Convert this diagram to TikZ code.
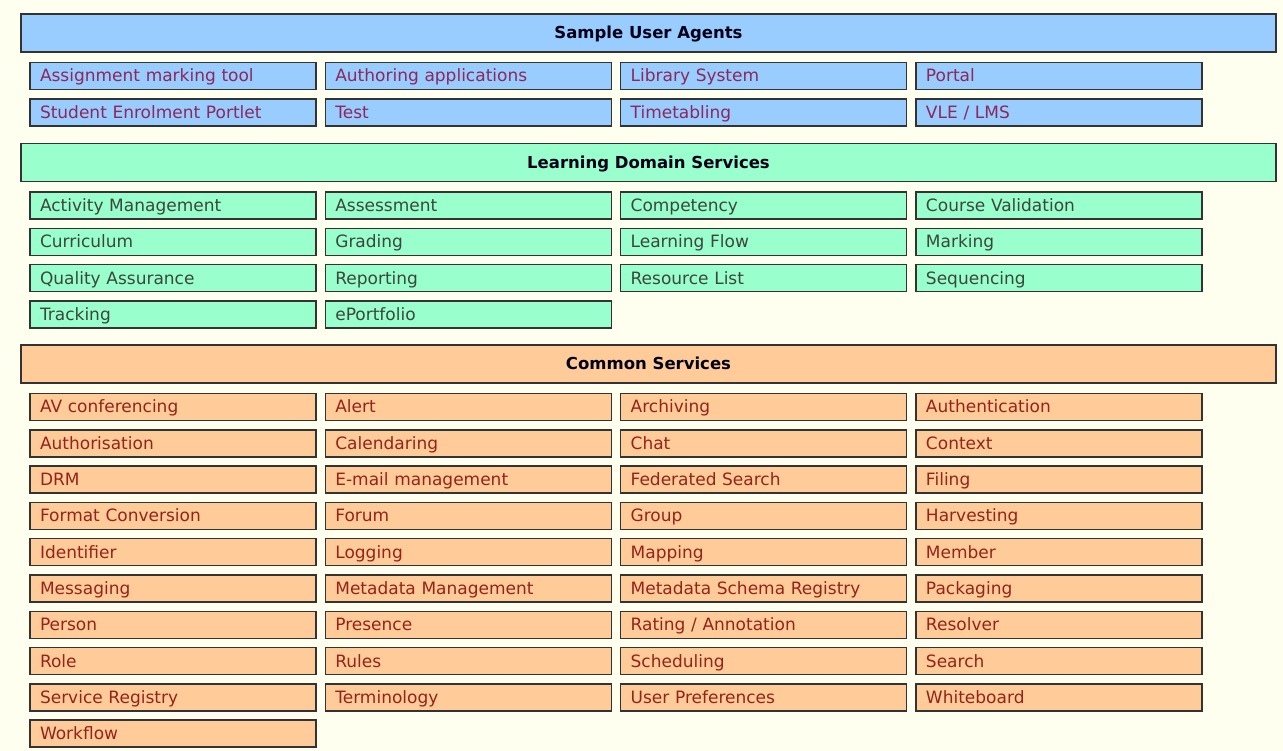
\documentclass[tikz,border=0pt]{standalone}
\usepackage{fontspec}
\setmainfont{DejaVu Sans}
\usepackage{tikz}
\usetikzlibrary{positioning}
\definecolor{SvBack}{RGB}{255,255,240}
\definecolor{SvEdge}{RGB}{51,51,51}
\definecolor{UABlue}{RGB}{153,204,255}
\definecolor{UAText}{RGB}{140,40,90}
\definecolor{LDGreen}{RGB}{153,255,204}
\definecolor{LDText}{RGB}{60,70,60}
\definecolor{CSOrange}{RGB}{255,204,153}
\definecolor{CSText}{RGB}{150,35,25}

\begin{document}
\begin{tikzpicture}[x=1pt, y=-1pt,
      hdr/.style={rectangle, draw=SvEdge, line width=1.5pt, minimum width=1255pt,
                  minimum height=38pt, inner sep=0pt, text height=13pt, text depth=1pt,
                  font=\fontsize{16.5}{19}\selectfont\bfseries, text=black!90!blue},
      svc/.style={rectangle, draw=SvEdge, line width=1.5pt, text width=266pt,
                  inner xsep=10pt, inner ysep=0pt, minimum height=27pt,
                  text height=13pt, text depth=1pt,
                  align=left, font=\fontsize{17}{20}\selectfont}
    ]
    \fill[SvBack] (0,0) rectangle (1283,751);
    \useasboundingbox (0,0) rectangle (1283,751);

    % user agents
    \node[hdr, fill=UABlue] (uahdr) at (648.5,33) {Sample User Agents};
    \foreach \name [count=\i from 0] in {Assignment marking tool,
        Authoring applications, Library System, Portal,
        Student Enrolment Portlet, Test, Timetabling, VLE / LMS}{
      \pgfmathsetmacro\cx{173+295.33*mod(\i,4)}
      \pgfmathsetmacro\cy{33+43+36.3*int(\i/4)}
      \node[svc, fill=UABlue, text=UAText] (ua-\i) at (\cx,\cy) {\name};
    }

    % learning domain services
    \node[hdr, fill=LDGreen] (ldhdr) at (648.5,162.5) {Learning Domain Services};
    \foreach \name [count=\i from 0] in {Activity Management, Assessment,
        Competency, Course Validation, Curriculum, Grading, Learning Flow,
        Marking, Quality Assurance, Reporting, Resource List, Sequencing,
        Tracking, ePortfolio}{
      \pgfmathsetmacro\cx{173+295.33*mod(\i,4)}
      \pgfmathsetmacro\cy{162.5+43+36.3*int(\i/4)}
      \node[svc, fill=LDGreen, text=LDText] (ld-\i) at (\cx,\cy) {\name};
    }

    % common services
    \node[hdr, fill=CSOrange] (cshdr) at (648.5,364) {Common Services};
    \foreach \name [count=\i from 0] in {AV conferencing, Alert, Archiving,
        Authentication, Authorisation, Calendaring, Chat, Context, DRM,
        E-mail management, Federated Search, Filing, Format Conversion, Forum,
        Group, Harvesting, Identifier, Logging, Mapping, Member, Messaging,
        Metadata Management, Metadata Schema Registry, Packaging, Person,
        Presence, Rating / Annotation, Resolver, Role, Rules, Scheduling,
        Search, Service Registry, Terminology, User Preferences, Whiteboard,
        Workflow}{
      \pgfmathsetmacro\cx{173+295.33*mod(\i,4)}
      \pgfmathsetmacro\cy{364+43+36.3*int(\i/4)}
      \node[svc, fill=CSOrange, text=CSText] (cs-\i) at (\cx,\cy) {\name};
    }
  \end{tikzpicture}
\end{document}
